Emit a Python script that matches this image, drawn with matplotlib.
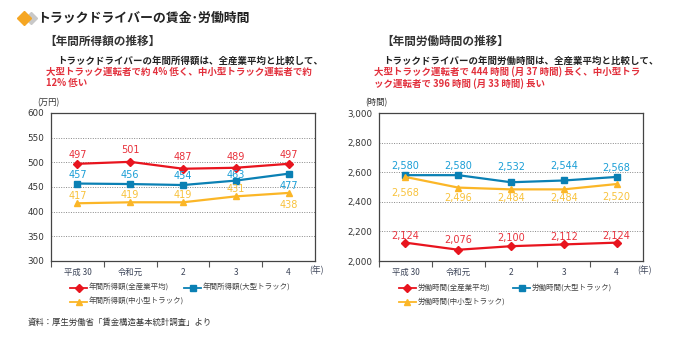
import matplotlib.pyplot as plt
from matplotlib.lines import Line2D

plt.rcParams['font.family'] = ['Noto Sans CJK JP', 'DejaVu Sans']

W, H = 683, 338

years = ["平成 30", "令和元", "2", "3", "4"]

# annual income (10,000 yen)
income_all = [497, 501, 487, 489, 497]
income_large = [457, 456, 454, 463, 477]
income_small = [417, 419, 419, 431, 438]

# annual working hours
hours_all = [2124, 2076, 2100, 2112, 2124]
hours_large = [2580, 2580, 2532, 2544, 2568]
hours_small = [2568, 2496, 2484, 2484, 2520]

RED, RED_TXT = "#e8141e", "#e8323c"
BLUE, BLUE_TXT = "#0a80b4", "#1a9ed6"
YEL, YEL_TXT = "#fbb627", "#f8c23c"
TXT_RED = "#e2303c"

styles = {
    "all": dict(color=RED, marker="D", markersize=4.2, lw=1.6),
    "large": dict(color=BLUE, marker="s", markersize=4.2, lw=1.6),
    "small": dict(color=YEL, marker="^", markersize=5, lw=1.6),
}
label_colors = {"all": RED_TXT, "large": BLUE_TXT, "small": YEL_TXT}


def fpos(x, y):
    # pixel position -> figure fraction
    return x / W, 1 - y / H


fig = plt.figure(figsize=(W / 100, H / 100), dpi=100)

# ---------------- header ---------------- #
fig.add_artist(Line2D([31 / W], [1 - 17.5 / H], marker="D", markersize=6,
                      color="#c8c8c8", transform=fig.transFigure))
fig.add_artist(Line2D([24 / W], [1 - 17.5 / H], marker="D", markersize=7,
                      color="#f5a623", transform=fig.transFigure))
fig.text(*fpos(37, 17.5), "トラックドライバーの賃金･労働時間", fontsize=9.3,
         fontweight="bold", va="center", color="#222")

fig.text(*fpos(44, 41), "【年間所得額の推移】", fontsize=8.4, fontweight="bold",
         va="center", color="#333")
fig.text(*fpos(57, 61), "トラックドライバーの年間所得額は、全産業平均と比較して、",
         fontsize=6.8, fontweight="bold", va="center", color="#222")
fig.text(*fpos(46, 72), "大型トラック運転者で約 4% 低く、中小型トラック運転者で約",
         fontsize=6.8, fontweight="bold", va="center", color=TXT_RED)
fig.text(*fpos(46, 83), "12% 低い", fontsize=6.8, fontweight="bold", va="center",
         color=TXT_RED)

fig.text(*fpos(381, 41), "【年間労働時間の推移】", fontsize=8.4, fontweight="bold",
         va="center", color="#333")
fig.text(*fpos(383, 61), "トラックドライバーの年間労働時間は、全産業平均と比較して、",
         fontsize=6.8, fontweight="bold", va="center", color="#222")
fig.text(*fpos(374, 72), "大型トラック運転者で 444 時間 (月 37 時間) 長く、中小型トラ",
         fontsize=6.8, fontweight="bold", va="center", color=TXT_RED)
fig.text(*fpos(374, 84), "ック運転者で 396 時間 (月 33 時間) 長い", fontsize=6.8,
         fontweight="bold", va="center", color=TXT_RED)


# ---------------- charts ---------------- #
def draw_panel(ax, series, offsets, ylim, yticks, fmt, unit):
    x = range(len(years))
    for key, values in series.items():
        ax.plot(x, values, **styles[key], zorder=3)
        for i, v in enumerate(values):
            dy = offsets[key][i]
            ax.annotate(fmt(v), (i, v), xytext=(0, dy * 0.72), textcoords="offset points",
                        ha="center", va="center", fontsize=7, family="DejaVu Sans",
                        color=label_colors[key], zorder=4)
    ax.set_xlim(-0.5, len(years) - 0.5)
    ax.set_ylim(*ylim)
    ax.set_yticks(yticks)
    ax.set_yticklabels([fmt(t) for t in yticks], family="DejaVu Sans")
    ax.set_xticks(list(x))
    ax.set_xticklabels(years)
    # separators between years, none under the "(年)" corner
    ax.set_xticks([i - 0.5 for i in range(len(years))], minor=True)
    ax.tick_params(axis="x", which="major", length=0, labelsize=6, pad=5, colors="#3c4458")
    ax.tick_params(axis="x", which="minor", length=4, color="#555", width=0.8)
    ax.tick_params(axis="y", length=0, labelsize=6.3, pad=5, colors="#333")
    for t in yticks[1:-1]:
        ax.axhline(t, color="#888", lw=0.7, ls=(0, (1, 1.5)), zorder=1)
    for s in ax.spines.values():
        s.set_color("#444")
        s.set_linewidth(0.9)
    ax.text(-0.01, 1.07, unit, transform=ax.transAxes, fontsize=6, ha="center",
            va="center", color="#333")
    ax.text(1.005, -0.065, "(年)", transform=ax.transAxes, fontsize=6.3, ha="center",
            va="center", color="#3c4458")


ax1 = fig.add_axes([51 / W, (H - 261) / H, 264 / W, 148 / H])
draw_panel(
    ax1,
    {"all": income_all, "large": income_large, "small": income_small},
    {"all": [9, 12, 12, 11, 9], "large": [9, 9, 9, 6, -12], "small": [7, 7, 7, 7, -12]},
    (300, 600), list(range(300, 601, 50)), lambda v: f"{v:d}", "(万円)",
)

ax2 = fig.add_axes([379 / W, (H - 261) / H, 264 / W, 148 / H])
draw_panel(
    ax2,
    {"all": hours_all, "large": hours_large, "small": hours_small},
    {"all": [7, 10, 8, 7, 7], "large": [9, 9, 15.5, 14, 9],
     "small": [-16, -10, -9, -9, -13]},
    (2000, 3000), list(range(2000, 3001, 200)), lambda v: f"{v:,d}", "(時間)",
)


# ---------------- legends ---------------- #
def legend_item(x, y, key, text):
    st = styles[key]
    fig.add_artist(Line2D([x / W, (x + 17) / W], [1 - y / H] * 2, transform=fig.transFigure,
                          color=st["color"], lw=1.3))
    fig.add_artist(Line2D([(x + 8.5) / W], [1 - y / H], transform=fig.transFigure,
                          color=st["color"], marker=st["marker"],
                          markersize=st["markersize"] - 0.5))
    fig.text(*fpos(x + 19, y), text, fontsize=5.4, va="center", color="#444")


legend_item(70, 288, "all", "年間所得額(全産業平均)")
legend_item(184, 288, "large", "年間所得額(大型トラック)")
legend_item(70, 302, "small", "年間所得額(中小型トラック)")

legend_item(399, 288, "all", "労働時間(全産業平均)")
legend_item(513, 288, "large", "労働時間(大型トラック)")
legend_item(399, 302, "small", "労働時間(中小型トラック)")

fig.text(*fpos(28, 322), "資料：厚生労働省「賃金構造基本統計調査」より", fontsize=6,
         va="center", color="#333")

fig.savefig("out.png", dpi=100)
